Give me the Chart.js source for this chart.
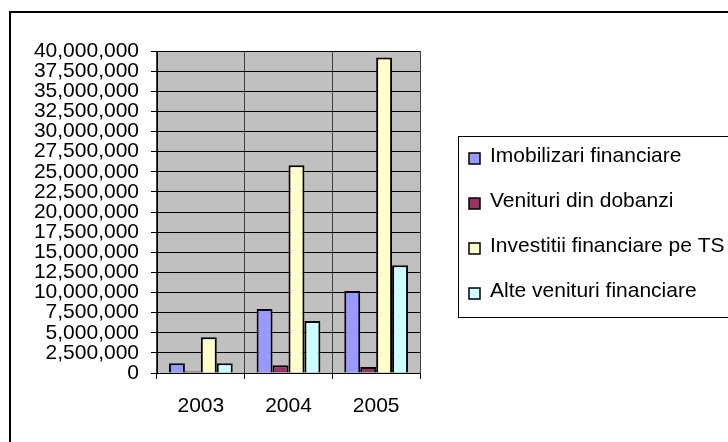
<!DOCTYPE html>
<html lang="ro">
  <head>
    <meta charset="UTF-8" />
    <title>Venituri financiare</title>
    <script src="https://cdn.jsdelivr.net/npm/chart.js@4/dist/chart.umd.min.js"></script>
    <style>
      html, body { margin: 0; padding: 0; background: #fff; overflow: hidden; }
      #wrap { position: relative; width: 728px; height: 442px; }
    </style>
  </head>
  <body>
    <div id="wrap"><canvas id="myChart"></canvas></div>
    <script>
      // data
      const years = ["2003", "2004", "2005"];
      const imobilizari = [1200000, 7950000, 10200000];
      const dobanzi = [200000, 950000, 750000];
      const investitii = [4430000, 25800000, 39200000];
      const alteVenituri = [1200000, 6450000, 13400000];

      const yMin = 0;
      const yMax = 40000000;
      const yStep = 2500000;

      const FONT = "'Liberation Sans', Arial, sans-serif";

      // legend box on the right, it runs off the edge of the picture
      const legendBox = { left: 458, top: 136, bottom: 317, firstRow: 155, rowGap: 45, marker: 11 };

      // gray plot area, outer frame and the framed legend
      const frames = {
        id: "frames",
        beforeDraw(chart) {
          const { ctx, chartArea: a } = chart;
          ctx.save();
          ctx.fillStyle = "#fff";
          ctx.fillRect(0, 0, chart.width, chart.height);
          ctx.fillStyle = "#c0c0c0";
          ctx.fillRect(a.left, a.top, a.right - a.left, a.bottom - a.top);
          ctx.restore();
        },
        afterDraw(chart) {
          const ctx = chart.ctx;
          const L = legendBox;
          ctx.save();
          ctx.strokeStyle = "#000";
          ctx.lineWidth = 2;
          ctx.strokeRect(10, 12, 900, 600);

          ctx.lineWidth = 1;
          ctx.strokeRect(L.left + 0.5, L.top + 0.5, 600, L.bottom - L.top);

          ctx.font = "21px " + FONT;
          ctx.textBaseline = "middle";
          chart.data.datasets.forEach((ds, i) => {
            const y = L.firstRow + i * L.rowGap;
            // the little squares sit a few pixels below the text middle
            const my = y + 3.5 - L.marker / 2;
            ctx.fillStyle = ds.backgroundColor;
            ctx.fillRect(L.left + 11, my, L.marker, L.marker);
            ctx.lineWidth = 1.5;
            ctx.strokeStyle = "#000";
            ctx.strokeRect(L.left + 11, my, L.marker, L.marker);
            ctx.fillStyle = "#000";
            ctx.fillText(ds.label, L.left + 32, y + 1);
          });
          ctx.restore();
        },
      };

      const ctx = document.getElementById("myChart").getContext("2d");
      const myChart = new Chart(ctx, {
        type: "bar",
        data: {
          labels: years,
          datasets: [
            { label: "Imobilizari financiare", data: imobilizari, backgroundColor: "#9999ff" },
            { label: "Venituri din dobanzi", data: dobanzi, backgroundColor: "#993366" },
            { label: "Investitii financiare pe TS", data: investitii, backgroundColor: "#ffffcc" },
            { label: "Alte venituri financiare", data: alteVenituri, backgroundColor: "#ccffff" },
          ].map((d) => ({
            ...d,
            borderColor: "#000",
            borderWidth: 2,
            categoryPercentage: 4 / 5.5,
            barPercentage: 1,
          })),
        },
        options: {
          responsive: true,
          maintainAspectRatio: false,
          animation: false,
          layout: { padding: { left: 0, top: 51, right: 308, bottom: 0 } },
          scales: {
            x: {
              grid: {
                display: true,
                offset: true,
                color: (c) => (c.index === years.length ? "#808080" : "#404040"),
                tickColor: "#000",
                tickLength: 6,
                lineWidth: 1,
              },
              border: { display: true, color: "#000", width: 1 },
              ticks: { color: "#000", font: { family: FONT, size: 21 }, padding: 15, maxRotation: 0 },
              afterFit: (s) => { s.height = 69; },
            },
            y: {
              min: yMin,
              max: yMax,
              grid: { color: "#000", tickColor: "#000", tickLength: 6, lineWidth: 1 },
              border: { display: true, color: "#000", width: 1 },
              ticks: {
                stepSize: yStep,
                autoSkip: false,
                color: "#000",
                padding: 12,
                font: { family: FONT, size: 21 },
                callback: (v) => v.toLocaleString("en-US"),
              },
              afterFit: (s) => { s.width = 157; },
            },
          },
          plugins: {
            legend: { display: false },
            tooltip: { enabled: false },
          },
        },
        plugins: [frames],
      });
    </script>
  </body>
</html>
